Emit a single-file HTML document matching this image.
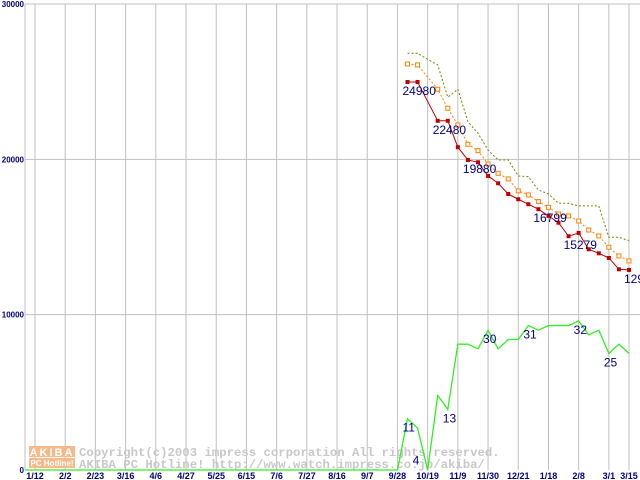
<!DOCTYPE html>
<html><head><meta charset="utf-8"><style>
html,body{margin:0;padding:0;background:#fff;width:640px;height:480px;overflow:hidden}
svg text{font-family:"Liberation Sans","DejaVu Sans",sans-serif}
svg text.mono{font-family:"Liberation Mono","DejaVu Sans Mono",monospace}
</style></head><body>
<svg id="chart" width="640" height="480" viewBox="0 0 640 480" xmlns="http://www.w3.org/2000/svg">
<g id="grid"></g>
<g id="wm">
<rect x="29" y="446" width="46" height="11" fill="#f7b98a"/>
<text x="52" y="456" font-size="11" font-weight="bold" fill="#fff" text-anchor="middle" letter-spacing="2">AKIBA</text>
<rect x="29" y="458" width="46" height="10" fill="#f7b98a"/>
<text x="52" y="466" font-size="8" font-weight="bold" fill="#fff" text-anchor="middle">PC Hotline!</text>
<text class="mono" x="79" y="456" font-size="12.3" font-weight="bold" fill="#c8c8c8">Copyright(c)2003 impress corporation All rights reserved.</text>
<text class="mono" x="79" y="468" font-size="12.3" font-weight="bold" fill="#c8c8c8">AKIBA PC Hotline!  http://www.watch.impress.co.jp/akiba/</text>
</g>
<g id="series"></g>
<g id="labels"></g>
</svg>
<script>
const xLabels=["1/12","2/2","2/23","3/16","4/6","4/27","5/25","6/15","7/6","7/27","8/16","9/7","9/28","10/19","11/9","11/30","12/21","1/18","2/8","3/1","3/15"];
const xLabelIdx=[0,3,6,9,12,15,18,21,24,27,30,33,36,39,42,45,48,51,54,57,59];
const yTicks=[0,10000,20000,30000];
const startIdx=37;
const minPrice=[24980,24980,null,22480,22480,20780,19960,19810,18930,18460,17770,17430,17110,16790,16360,15920,15050,15260,14210,13950,13650,12920,12880];
const avgPrice=[26140,26080,null,24510,23290,22210,20970,20560,19700,19100,18740,17970,17710,17280,16910,16480,16360,16030,15450,15070,14340,13780,13460];
const maxPrice=[26830,26830,26440,26080,24000,24510,22430,21680,20600,19960,19960,18930,18890,18030,17770,17170,17170,17000,17000,17000,14980,14980,14770];
const shopStart=36;
const shops=[0,11,9,0,16,13,27,27,26,30,26,28,28,31,30,31,31,31,32,29,30,25,27,25];
const priceLabels=[["24980",37,24980],["22480",40,22480],["19880",43,19960],["16799",50,16790],["15279",53,15050],["12900",59,12880]];
const shopLabels=[["11",37,11],["4",38,4],["13",41,13],["30",45,30],["31",49,31],["32",54,32],["25",57,25]];
const SHOP_UNIT=300;
const X=i=>35+i*594/59;
const Y=v=>470-v*466/30000;
const NS="http://www.w3.org/2000/svg";
function mk(tag,attrs,parent){const e=document.createElementNS(NS,tag);for(const k in attrs)e.setAttribute(k,attrs[k]);parent.appendChild(e);return e;}
const grid=document.getElementById('grid'),series=document.getElementById('series'),labels=document.getElementById('labels');
for(let k=0;k<xLabels.length;k++){
 const x=X(xLabelIdx[k]);
 const l=mk('line',{x1:x,y1:4,x2:x,y2:470,stroke:'#c0c0c0','stroke-width':1},grid);
 
 
 const t=mk('text',{x:x,y:479,'font-size':9,'font-weight':'bold',fill:'#000080','text-anchor':'middle'},grid);
 t.textContent=xLabels[k];
 
 
}
for(const v of yTicks){
 const y=Y(v);
 if(v>0){const l=mk('line',{x1:25,y1:y,x2:640,y2:y,stroke:'#c0c0c0','stroke-width':1},grid);
 
 }
 const t=mk('text',{x:24,y:y+3,'font-size':8,'font-weight':'bold',fill:'#000080','text-anchor':'end'},grid);
 t.textContent=String(v);
 
 
}
const ax=mk('path',{d:'M25 470 V4 H640',stroke:'#c0c0c0',fill:'none'},grid);


function pts(arr,start,scale){const p=[];arr.forEach((v,j)=>{if(v!==null)p.push([X(start+j),Y(v*scale)]);});return p;}
function line(p,color,dash,name,w){
 const e=mk('polyline',{points:p.map(q=>q.join(',')).join(' '),fill:'none',stroke:color,'stroke-width':w||1,'stroke-dasharray':dash||'none'},series);
 
 
}
const gp=pts(shops,shopStart,SHOP_UNIT);gp.unshift([25,470]);
line(gp,'#33ee22','', 'shops-line',1.3);
line(pts(maxPrice,startIdx,1),'#808000','2,2','max-price-line');
const ap=pts(avgPrice,startIdx,1);
line(ap,'#ff8000','2,2','avg-price-line');
ap.forEach(q=>{const r=mk('rect',{x:q[0]-2,y:q[1]-2,width:4,height:4,fill:'#fff',stroke:'#ff8000','stroke-width':1},series);
 
 });
const mp=pts(minPrice,startIdx,1);
line(mp,'#c00000','','min-price-line');
mp.forEach(q=>{const r=mk('rect',{x:q[0]-2,y:q[1]-2,width:4,height:4,fill:'#c00000'},series);
 
 });
function lab(list,scale){for(const [s,i,v] of list){
 const t=mk('text',{x:X(i)-5,y:Y(v*scale)+13,'font-size':12,fill:'#000080'},labels);
 t.textContent=s;
 
 }}
lab(priceLabels,1);
lab(shopLabels,SHOP_UNIT);
</script>
</body></html>
